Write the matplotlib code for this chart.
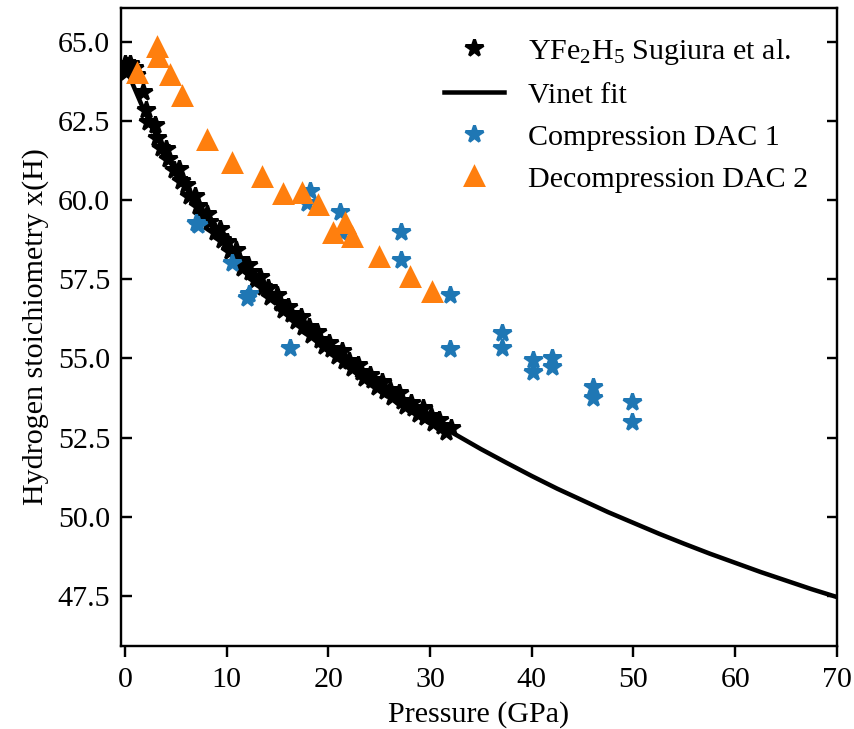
import matplotlib
matplotlib.use("Agg")
import matplotlib.pyplot as plt

plt.rcParams['font.family'] = ['Liberation Serif', 'DejaVu Serif']
plt.rcParams['mathtext.fontset'] = 'custom'
plt.rcParams['mathtext.rm'] = 'Liberation Serif'
plt.rcParams['mathtext.it'] = 'Liberation Serif:italic'
plt.rcParams['font.size'] = 10

# Sugiura et al. data (black stars)
sug_p = [0.05, 0.25, 0.45, 0.65, 0.15, 0.85, 1.05, 1.75,
         2.05, 2.30, 2.92, 3.20, 3.55, 4.08, 4.28, 4.83, 5.30, 5.53,
         6.05, 6.30, 6.92, 7.20, 7.55, 8.08, 8.28, 8.83, 9.30, 9.53,
         10.05, 10.30, 10.92, 11.20, 11.55, 12.08, 12.28, 12.83, 13.30, 13.53,
         14.05, 14.30, 14.92, 15.20, 15.55, 16.08, 16.28, 16.83, 17.30, 17.53,
         18.05, 18.30, 18.92, 19.20, 19.55, 20.08, 20.28, 20.83, 21.30, 21.53,
         22.05, 22.30, 22.92, 23.20, 23.55, 24.08, 24.28, 24.83, 25.30, 25.53,
         26.05, 26.30, 26.92, 27.20, 27.55, 28.08, 28.28, 28.83, 29.30, 29.53,
         30.05, 30.30, 30.92, 31.20, 31.55, 32.08]
sug_x = [64.28, 64.22, 64.30, 64.12, 64.05, 64.18, 63.95, 63.40,
         62.84, 62.45, 62.38, 61.97, 61.63, 61.61, 61.29, 60.94, 60.99, 60.59,
         60.48, 60.13, 60.13, 59.81, 59.53, 59.56, 59.30, 59.00, 59.09, 58.74,
         58.68, 58.38, 58.42, 58.12, 57.87, 57.94, 57.72, 57.47, 57.58, 57.25,
         57.21, 56.94, 57.01, 56.75, 56.53, 56.62, 56.41, 56.18, 56.31, 56.00,
         55.99, 55.74, 55.83, 55.58, 55.38, 55.48, 55.29, 55.07, 55.22, 54.93,
         54.93, 54.70, 54.80, 54.57, 54.38, 54.49, 54.32, 54.11, 54.27, 53.98,
         54.00, 53.78, 53.90, 53.67, 53.49, 53.61, 53.45, 53.26, 53.43, 53.15,
         53.17, 52.95, 53.07, 52.86, 52.69, 52.82]

# Vinet fit curve
fit_p = [0.0, 0.8, 1.64, 2.4, 3.12, 4.0, 4.81, 5.7, 6.74, 7.8, 8.94, 10.2,
         11.46, 12.9, 14.32, 15.9, 17.58, 19.4, 21.3, 23.4, 25.53, 27.9,
         30.33, 32.5, 35.0, 37.5, 40.0, 42.5, 45.0, 47.5, 50.0, 52.5,
         55.0, 57.5, 60.0, 62.5, 65.0, 67.5, 70.0]
fit_x = [64.30, 63.63, 63.00, 62.49, 62.00, 61.48, 61.00, 60.54, 60.00, 59.52,
         59.00, 58.50, 58.00, 57.50, 57.00, 56.50, 56.00, 55.50, 55.00, 54.50,
         54.00, 53.50, 53.00, 52.60, 52.14, 51.71, 51.29, 50.89, 50.52, 50.15,
         49.81, 49.47, 49.15, 48.84, 48.55, 48.26, 47.99, 47.72, 47.47]

# Compression DAC 1
comp_p = [7.0, 7.2, 10.5, 12.0, 12.2, 16.2, 18.2, 17.9, 21.1, 21.3, 27.1, 27.1,
          32.0, 32.0, 37.1, 37.1, 40.1, 40.1, 42.0, 42.0, 46.0, 46.0, 49.9, 49.9]
comp_x = [59.27, 59.20, 58.00, 56.92, 57.02, 55.32, 60.28, 59.91, 59.63, 58.96,
          59.00, 58.11, 57.00, 55.29, 55.79, 55.34, 54.95, 54.58, 55.00, 54.74,
          54.11, 53.74, 53.64, 53.00]

# Decompression DAC 2
dec_p = [3.12, 3.27, 1.21, 4.42, 5.58, 8.03, 10.49, 13.5, 15.54, 17.45, 18.98,
         20.48, 21.63, 22.35, 25.0, 28.02, 30.16]
dec_x = [64.83, 64.52, 64.00, 63.94, 63.28, 61.89, 61.16, 60.73, 60.19, 60.23,
         59.83, 58.95, 59.27, 58.84, 58.19, 57.58, 57.11]

fig = plt.figure(figsize=(854 / 216, 729 / 216), dpi=216)
ax = fig.add_axes([0.1413, 0.1145, 0.980 - 0.1413, 0.989 - 0.1145])

ax.plot(sug_p, sug_x, linestyle='none', marker='*', color='k',
        label='YFe$_2$H$_5$ Sugiura et al.')
ax.plot(fit_p, fit_x, color='k', lw=1.5, label='Vinet fit')
ax.plot(comp_p, comp_x, linestyle='none', marker='*', color='#1f77b4',
        label='Compression DAC 1')
ax.plot(dec_p, dec_x, linestyle='none', marker='^', color='#ff7f0e',
        label='Decompression DAC 2')

ax.set_xlim(-0.42, 70)
ax.set_ylim(45.94, 66.06)
ax.set_xticks([0, 10, 20, 30, 40, 50, 60, 70])
ax.set_yticks([47.5, 50.0, 52.5, 55.0, 57.5, 60.0, 62.5, 65.0])
ax.tick_params(axis='y', direction='in', right=True)
ax.tick_params(axis='x', direction='out')

ax.set_xlabel('Pressure (GPa)', labelpad=3.0)
ax.set_ylabel('Hydrogen stoichiometry x(H)', labelpad=3.0)
ax.legend(loc='upper right', frameon=False, borderaxespad=0.55)

fig.savefig('out.png', dpi=216)
